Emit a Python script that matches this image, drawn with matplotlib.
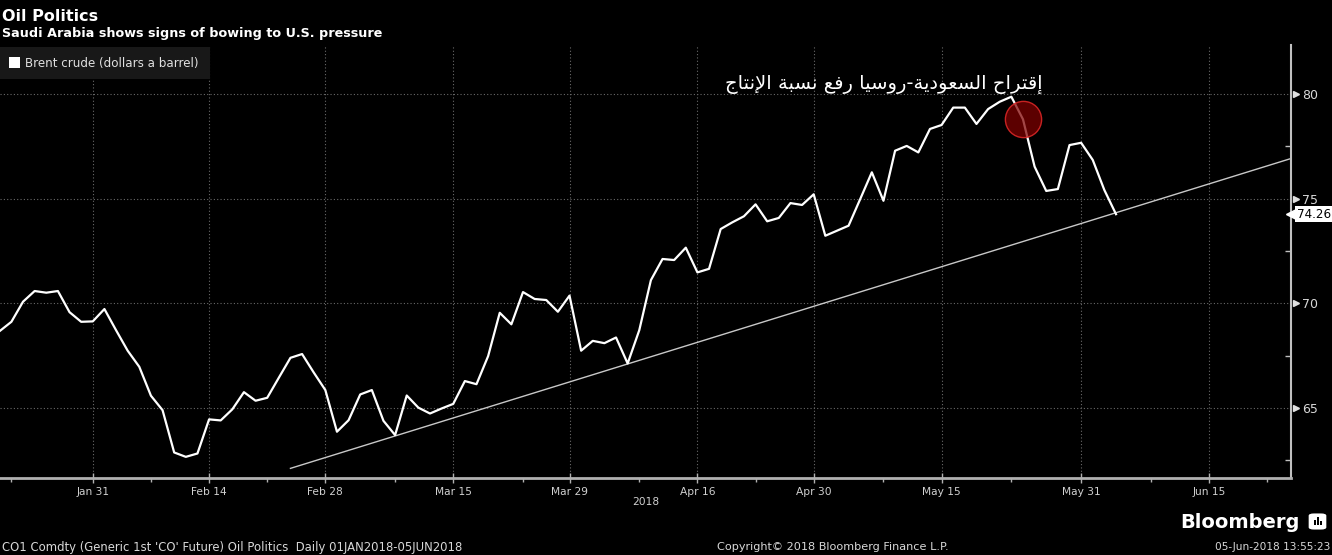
import matplotlib
matplotlib.use('Agg')
import matplotlib.pyplot as plt
from matplotlib.patches import Rectangle, FancyBboxPatch
import pandas as pd

# Brent crude closes (trading days, Good Friday skipped)
dates = pd.bdate_range('2018-01-19', '2018-06-05').drop(pd.Timestamp('2018-03-30'))
values = [68.68, 69.12, 70.08, 70.59, 70.51, 70.59, 69.58, 69.12, 69.14,
          69.73, 68.72, 67.74, 66.97, 65.59, 64.90, 62.88, 62.67, 62.83, 64.46,
          64.41, 64.94, 65.76, 65.35, 65.49, 66.45, 67.40, 67.58, 66.70, 65.86,
          63.87, 64.42, 65.65, 65.86, 64.39, 63.71, 65.60, 65.02, 64.74, 64.98,
          65.20, 66.29, 66.14, 67.48, 69.55, 69.00, 70.54, 70.21, 70.16, 69.60,
          70.37, 67.74, 68.21, 68.10, 68.37, 67.13, 68.72, 71.11, 72.12, 72.07,
          72.66, 71.48, 71.65, 73.55, 73.87, 74.16, 74.73, 73.92, 74.08, 74.79,
          74.70, 75.21, 73.23, 73.47, 73.71, 74.98, 76.26, 74.90, 77.29, 77.52,
          77.21, 78.33, 78.52, 79.35, 79.35, 78.57, 79.28, 79.63, 79.87, 78.79,
          76.53, 75.37, 75.46, 77.56, 77.67, 76.85, 75.41, 74.26]

trend_dates = ['2018-02-23', '2018-06-26']
trend_values = [62.12, 76.91]

event_date = '2018-05-24'

major_dates = ['2018-01-31', '2018-02-14', '2018-02-28', '2018-03-15', '2018-03-29',
               '2018-04-16', '2018-04-30', '2018-05-15', '2018-05-31', '2018-06-15']
major_labels = ['Jan 31', 'Feb 14', 'Feb 28', 'Mar 15', 'Mar 29',
                'Apr 16', 'Apr 30', 'May 15', 'May 31', 'Jun 15']
minor_dates = ['2018-01-22', '2018-02-07', '2018-02-21', '2018-03-08', '2018-03-23',
               '2018-04-09', '2018-04-23', '2018-05-08', '2018-05-23', '2018-06-08',
               '2018-06-22']
y_major = [65, 70, 75, 80]
y_minor = [62.5, 67.5, 72.5, 77.5]

title = 'Oil Politics'
subtitle = 'Saudi Arabia shows signs of bowing to U.S. pressure'
series_name = 'Brent crude (dollars a barrel)'
note_ar = 'إقتراح السعودية-روسيا رفع نسبة الإنتاج'

# trading-day calendar used as the x scale
cal = pd.bdate_range('2018-01-19', '2018-07-06').drop(pd.Timestamp('2018-03-30'))


def pos(d):
    return cal.get_loc(pd.Timestamp(d))


# tiny Arabic shaper: matplotlib has no shaping / bidi
AR_FORMS = {
    '\u0627': ('\uFE8D', '\uFE8E', None, None),
    '\u0625': ('\uFE87', '\uFE88', None, None),
    '\u0628': ('\uFE8F', '\uFE90', '\uFE91', '\uFE92'),
    '\u0629': ('\uFE93', '\uFE94', None, None),
    '\u062A': ('\uFE95', '\uFE96', '\uFE97', '\uFE98'),
    '\u062C': ('\uFE9D', '\uFE9E', '\uFE9F', '\uFEA0'),
    '\u062D': ('\uFEA1', '\uFEA2', '\uFEA3', '\uFEA4'),
    '\u062F': ('\uFEA9', '\uFEAA', None, None),
    '\u0631': ('\uFEAD', '\uFEAE', None, None),
    '\u0633': ('\uFEB1', '\uFEB2', '\uFEB3', '\uFEB4'),
    '\u0639': ('\uFEC9', '\uFECA', '\uFECB', '\uFECC'),
    '\u0641': ('\uFED1', '\uFED2', '\uFED3', '\uFED4'),
    '\u0642': ('\uFED5', '\uFED6', '\uFED7', '\uFED8'),
    '\u0644': ('\uFEDD', '\uFEDE', '\uFEDF', '\uFEE0'),
    '\u0646': ('\uFEE5', '\uFEE6', '\uFEE7', '\uFEE8'),
    '\u0648': ('\uFEED', '\uFEEE', None, None),
    '\u064A': ('\uFEF1', '\uFEF2', '\uFEF3', '\uFEF4'),
}
LAM_ALEF = {'\u0627': ('\uFEFB', '\uFEFC'), '\u0625': ('\uFEF9', '\uFEFA')}


def shape_ar(s):
    def joins_next(c):
        return c in AR_FORMS and AR_FORMS[c][2] is not None
    out = []
    i = 0
    while i < len(s):
        c = s[i]
        if c not in AR_FORMS:
            out.append(c)
            i += 1
            continue
        pj = i > 0 and joins_next(s[i - 1])
        if c == '\u0644' and i + 1 < len(s) and s[i + 1] in LAM_ALEF:
            out.append(LAM_ALEF[s[i + 1]][1 if pj else 0])
            i += 2
            continue
        nj = joins_next(c) and i + 1 < len(s) and s[i + 1] in AR_FORMS
        iso, fin, ini, med = AR_FORMS[c]
        out.append(med if (pj and nj) else fin if pj else ini if nj else iso)
        i += 1
    return ''.join(out)[::-1]


W, H = 1332, 555
fig = plt.figure(figsize=(W / 100, H / 100), dpi=100, facecolor='black')
ax = fig.add_axes([0, 1 - 478 / H, 1291 / W, (478 - 45) / H])
ax.set_facecolor('black')

x = [pos(d) for d in dates]
ax.plot(x, values, color='white', lw=1.6, zorder=3)
ax.plot([pos(d) for d in trend_dates], trend_values, color='#c8c8c8', lw=1.0, zorder=2.5)

ev = list(dates).index(pd.Timestamp(event_date))
ax.scatter([x[ev]], [values[ev]], s=680, facecolor=(0.5, 0, 0, 0.72),
           edgecolor=(0.85, 0.15, 0.15, 0.9), linewidth=1, zorder=4)

ax.set_xlim(pos('2018-01-19') + 0.02, pos('2018-06-05') + 15.05)
ax.set_ylim(61.66, 82.34)

for s in ['top', 'left']:
    ax.spines[s].set_visible(False)
ax.spines['right'].set_color('#c0c0c0')
ax.spines['right'].set_linewidth(1.5)
ax.spines['bottom'].set_color('#b0b0b0')
ax.spines['bottom'].set_linewidth(2)

ax.set_xticks([pos(d) for d in major_dates])
ax.set_xticklabels(major_labels)
ax.set_xticks([pos(d) for d in minor_dates], minor=True)
ax.tick_params(axis='x', which='major', direction='inout', length=7, width=1,
               color='#b0b0b0', labelcolor='#d0d0d0', labelsize=7.7, pad=3)
ax.tick_params(axis='x', which='minor', direction='out', length=3, width=1, color='#b0b0b0')

ax.yaxis.tick_right()
ax.set_yticks(y_major)
ax.set_yticks(y_minor, minor=True)
ax.tick_params(axis='y', which='major', length=0, labelcolor='#d8d8d8', labelsize=9, pad=8)
ax.tick_params(axis='y', which='minor', direction='in', length=4, width=1, color='#c0c0c0')
ax.plot([1.004] * len(y_major), y_major, marker='>', ms=4, color='#e0e0e0', ls='none',
        transform=ax.get_yaxis_transform(), clip_on=False)

ax.grid(True, which='major', color='#6a6a6a', linestyle=(0, (1, 2)), linewidth=0.8)
ax.set_axisbelow(True)

# legend box
ax.add_patch(Rectangle((0, (478 - 79) / 433), 210 / 1291, 32 / 433, transform=ax.transAxes,
                       facecolor='#181818', edgecolor='none', zorder=1, clip_on=False))
ax.add_patch(Rectangle((9 / 1291, (478 - 68) / 433), 11 / 1291, 11 / 433, transform=ax.transAxes,
                       facecolor='white', edgecolor='none', zorder=5, clip_on=False))
ax.text(25 / 1291, (478 - 63) / 433, series_name, transform=ax.transAxes, color='#e0e0e0',
        fontsize=8.6, va='center', ha='left', zorder=5)

# last value tag
ax.plot([1.0], [values[-1]], marker='<', ms=7, color='white', transform=ax.get_yaxis_transform(),
        clip_on=False, zorder=6)
ax.text(1.0 + 6 / 1291, values[-1], f'{values[-1]:.2f}', transform=ax.get_yaxis_transform(),
        fontsize=8.6, color='black', va='center', ha='left', clip_on=False,
        bbox=dict(boxstyle='square,pad=0.15', facecolor='white', edgecolor='none'))

ax.text(0.5, -0.055, '2018', transform=ax.transAxes, color='#d0d0d0', fontsize=7.7,
        ha='center', va='center')

ax.text(884 / 1291, (478 - 84) / 433, shape_ar(note_ar), transform=ax.transAxes, color='white',
        fontsize=14, ha='center', va='center', family='DejaVu Sans', zorder=6)


def ft(px, py, s, **kw):
    fig.text(px / W, 1 - py / H, s, **kw)


ft(2, 21, title, color='white', fontsize=11.5, fontweight='bold', va='baseline')
ft(2, 37, subtitle, color='white', fontsize=9.2, fontweight='bold', va='baseline')
ft(2, 547, "CO1 Comdty (Generic 1st 'CO' Future) Oil Politics  Daily 01JAN2018-05JUN2018",
   color='#d8d8d8', fontsize=8.4, va='center')
ft(833, 547, 'Copyright\u00a9 2018 Bloomberg Finance L.P.', color='#d8d8d8', fontsize=8.1,
   va='center', ha='center')
ft(1330, 547, '05-Jun-2018 13:55:23', color='#d8d8d8', fontsize=7.6, va='center', ha='right')
ft(1300, 522, 'Bloomberg', color='white', fontsize=14, fontweight='bold', va='center', ha='right')

# small logo square
fig.add_artist(FancyBboxPatch((1310 / W, 1 - 529 / H), 15 / W, 15 / H,
                              boxstyle='round,pad=0.001,rounding_size=0.004',
                              transform=fig.transFigure, facecolor='white', edgecolor='none'))
for bx, bh in [(1314, 5), (1317, 8), (1320, 4)]:
    fig.add_artist(Rectangle((bx / W, 1 - 525 / H), 2 / W, bh / H, transform=fig.transFigure,
                             facecolor='black', edgecolor='none'))

fig.savefig('out.png', dpi=100, facecolor='black')
